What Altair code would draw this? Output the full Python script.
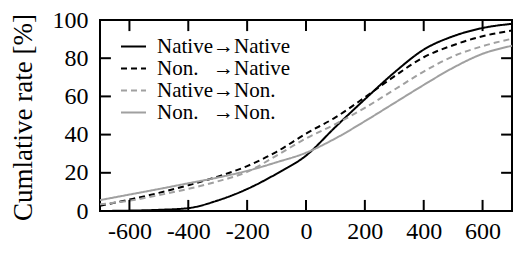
import altair as alt
import pandas as pd

x_vals = [-700, -600, -500, -400, -300, -200, -100, 0, 100, 200, 300, 400, 500, 600, 700]
native_native = [0.0, 0.2, 0.6, 1.5, 5.5, 11.5, 19.5, 29.0, 44.0, 58.5, 72.5, 84.5, 91.5, 95.8, 98.0]
non_native = [2.7, 6.0, 9.5, 13.5, 18.0, 23.5, 31.0, 40.5, 49.0, 59.5, 70.5, 80.5, 86.8, 91.5, 94.5]
native_non = [3.5, 5.4, 8.3, 11.6, 15.5, 20.5, 29.0, 38.0, 45.5, 54.0, 63.5, 73.0, 81.0, 86.3, 90.2]
non_non = [5.7, 8.6, 11.5, 14.5, 17.5, 21.0, 25.5, 30.5, 38.0, 47.0, 56.5, 66.0, 75.0, 82.3, 86.5]

series_names = ["Native\u2192Native", "Non.\u2002\u2009\u2192Native", "Native\u2192Non.", "Non.\u2002\u2009\u2192Non."]
series_values = [native_native, non_native, native_non, non_non]
series_colors = ["#000000", "#000000", "#a0a0a0", "#a0a0a0"]
series_dashes = [[1, 0], [6, 4], [6, 4], [1, 0]]

x_ticks = [-600, -400, -200, 0, 200, 400, 600]
y_ticks = [20, 40, 60, 80]
y_labels = [0, 20, 40, 60, 80, 100]
x_domain = [-700, 700]
y_domain = [0, 100]
tick_len_y = 5.8    # inward tick length in y units (~11 px)
tick_len_x = 37.0   # inward tick length in x units (~11 px)

rows = []
for name, vals in zip(series_names, series_values):
    for xv, yv in zip(x_vals, vals):
        rows.append({"x": xv, "pct": yv, "series": name})
df = pd.DataFrame(rows)

tick_rows = []
for v in x_ticks:
    tick_rows.append({"x": v, "x2": v, "y": y_domain[0], "y2": y_domain[0] + tick_len_y})
    tick_rows.append({"x": v, "x2": v, "y": y_domain[1], "y2": y_domain[1] - tick_len_y})
for v in y_ticks:
    tick_rows.append({"x": x_domain[0], "x2": x_domain[0] + tick_len_x, "y": v, "y2": v})
    tick_rows.append({"x": x_domain[1], "x2": x_domain[1] - tick_len_x, "y": v, "y2": v})
ticks_df = pd.DataFrame(tick_rows)

FONT = "Liberation Serif"

legend = alt.Legend(
    orient="none", legendX=20, legendY=16, title=None,
    symbolType="stroke", symbolSize=625, symbolStrokeWidth=2,
    labelFont=FONT, labelFontSize=21, labelColor="black", labelOffset=10,
    clipHeight=21, padding=0, rowPadding=0,
)

x_scale = alt.Scale(domain=x_domain, nice=False, zero=False)
y_scale = alt.Scale(domain=y_domain, nice=False)

lines = alt.Chart(df).mark_line(strokeWidth=2, interpolate="monotone", clip=True).encode(
    x=alt.X("x:Q", scale=x_scale, axis=alt.Axis(
        orient="bottom", values=x_ticks, title=None, domain=False,
        ticks=False, tickSize=0, labelOverlap=False,
        labelFont=FONT, labelFontSize=24, labelColor="black", labelPadding=8,
        labelExpr="'' + datum.value", grid=False)),
    y=alt.Y("pct:Q", scale=y_scale, axis=alt.Axis(
        orient="left", values=y_labels, domain=False, ticks=False, tickSize=0,
        labelOverlap=False,
        labelFont=FONT, labelFontSize=24, labelColor="black", labelPadding=12, grid=False,
        title="Cumlative rate [%]", titleFont=FONT, titleFontSize=27, titleFontWeight="normal",
        titleColor="black", titleX=-77, titleY=97, titleAlign="center",
        titleBaseline="middle", titleAngle=270)),
    color=alt.Color("series:N", scale=alt.Scale(domain=series_names, range=series_colors), legend=legend),
    strokeDash=alt.StrokeDash("series:N", scale=alt.Scale(domain=series_names, range=series_dashes), legend=legend),
)

ticks = alt.Chart(ticks_df).mark_rule(strokeWidth=2, color="black").encode(
    x=alt.X("x:Q", scale=x_scale, axis=None),
    x2="x2:Q",
    y=alt.Y("y:Q", scale=y_scale, axis=None),
    y2="y2:Q",
)

chart = alt.layer(lines, ticks).resolve_axis(x="independent", y="independent").properties(
    width=412, height=191,
    autosize=alt.AutoSizeParams(type="none"),
    padding={"left": 92, "top": 12, "right": 1, "bottom": 34},
).configure_view(stroke="black", strokeWidth=2)

chart.save("out.html", embed_options={"renderer": "svg", "actions": False})
